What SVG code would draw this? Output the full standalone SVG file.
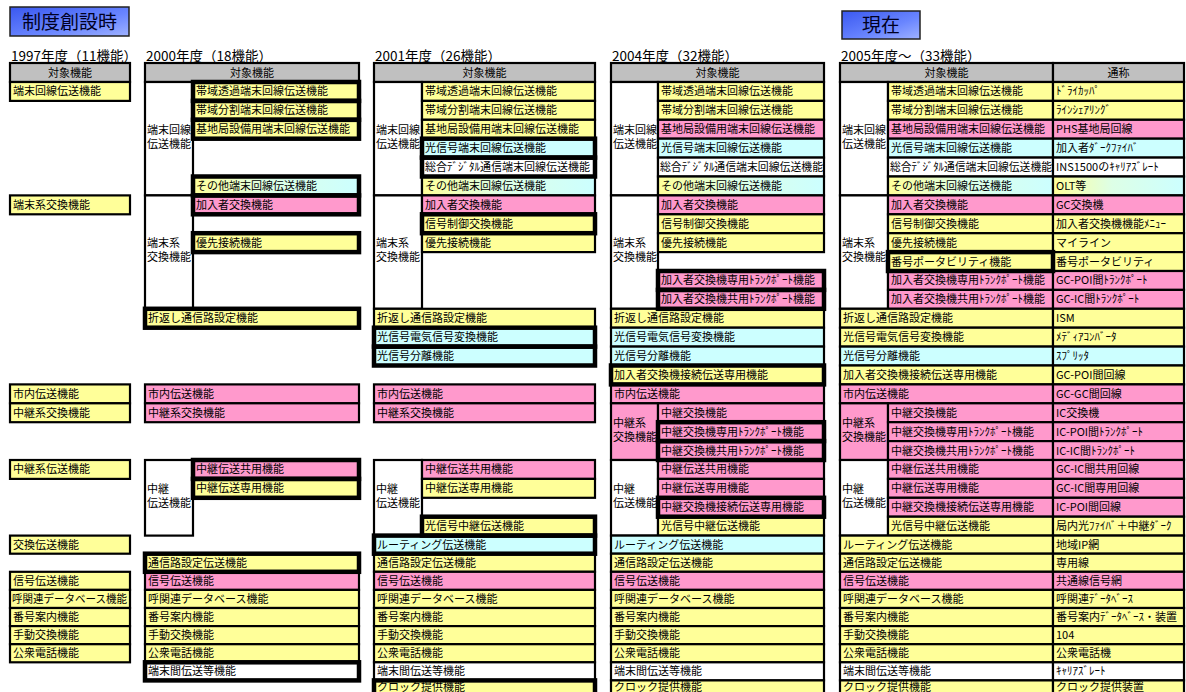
<svg xmlns="http://www.w3.org/2000/svg" width="1186" height="692" viewBox="0 0 1186 692">
<defs>
<linearGradient id="yc" x1="0" y1="0" x2="1" y2="0"><stop offset="0" stop-color="#FFFF99"/><stop offset="0.45" stop-color="#DDFFE6"/><stop offset="1" stop-color="#CCFFFF"/></linearGradient>
<linearGradient id="bl" x1="0" y1="0" x2="1" y2="1"><stop offset="0" stop-color="#3A58F0"/><stop offset="0.6" stop-color="#6A86FF"/><stop offset="1" stop-color="#9FB2FF"/></linearGradient>
<style>
rect{stroke:#000;stroke-width:2.2}
.y{fill:#FFFF99}.p{fill:#FF99CC}.c{fill:#CCFFFF}.w{fill:#FFFFFF}.g{fill:#C0C0C0}.gr{fill:url(#yc)}
.hl{fill:none;stroke:#000;stroke-width:4.5}
text{font-family:"Noto Sans CJK JP","Liberation Sans",sans-serif;font-size:11px;fill:#000}
.m{text-anchor:middle}
.yr{font-size:13.5px}
.ttl{font-size:19px;fill:#000022;text-anchor:middle}
.tb{fill:url(#bl);stroke:#222;stroke-width:1.5}
</style>
</defs>

<g id="title-start"><rect class="tb" x="10" y="7" width="119" height="29"/><text class="ttl" x="69.5" y="28.5">制度創設時</text></g>
<g id="title-now"><rect class="tb" x="842" y="11" width="78" height="28"/><text class="ttl" x="881" y="32">現在</text></g>

<g id="year-labels">
<text class="yr" x="11" y="61">1997年度（11機能）</text>
<text class="yr" x="146" y="61">2000年度（18機能）</text>
<text class="yr" x="375" y="61">2001年度（26機能）</text>
<text class="yr" x="612" y="61">2004年度（32機能）</text>
<text class="yr" x="841" y="61">2005年度～（33機能）</text>
</g>

<g id="t1997">
<rect class="g" x="10" y="63" width="120" height="19"/><text class="m" x="70" y="76.5">対象機能</text>
<rect class="y" x="10" y="82" width="120" height="18.9"/><text x="13" y="95.4">端末回線伝送機能</text>
<rect class="y" x="10" y="195.4" width="120" height="18.9"/><text x="13" y="208.8">端末系交換機能</text>
<rect class="y" x="10" y="384.4" width="120" height="18.9"/><text x="13" y="397.8">市内伝送機能</text>
<rect class="y" x="10" y="403.3" width="120" height="18.9"/><text x="13" y="416.7">中継系交換機能</text>
<rect class="y" x="10" y="460" width="120" height="18.9"/><text x="13" y="473.4">中継系伝送機能</text>
<rect class="y" x="10" y="535.6" width="120" height="18.1"/><text x="13" y="548.6">交換伝送機能</text>
<rect class="y" x="10" y="571.8" width="120" height="18.1"/><text x="13" y="584.8">信号伝送機能</text>
<rect class="y" x="10" y="589.9" width="120" height="18.1"/><text x="12" y="602.9" textLength="115" lengthAdjust="spacingAndGlyphs">呼関連データベース機能</text>
<rect class="y" x="10" y="608" width="120" height="18.1"/><text x="13" y="621">番号案内機能</text>
<rect class="y" x="10" y="626.1" width="120" height="18.1"/><text x="13" y="639.1">手動交換機能</text>
<rect class="y" x="10" y="644.2" width="120" height="18.1"/><text x="13" y="657.2">公衆電話機能</text>
</g>

<g id="t2000">
<rect class="g" x="145" y="63" width="214" height="19"/><text class="m" x="252" y="76.5">対象機能</text>
<rect class="w" x="145" y="82" width="48" height="113.4"/><text x="147" y="133.7">端末回線</text><text x="147" y="147.7">伝送機能</text>
<rect class="y" x="193" y="82" width="166" height="18.9"/><text x="196" y="95.4">帯域透過端末回線伝送機能</text>
<rect class="y" x="193" y="100.9" width="166" height="18.9"/><text x="196" y="114.3">帯域分割端末回線伝送機能</text>
<rect class="y" x="193" y="119.8" width="166" height="18.9"/><text x="196" y="133.2">基地局設備用端末回線伝送機能</text>
<rect class="gr" x="193" y="176.5" width="166" height="18.9"/><text x="196" y="189.9">その他端末回線伝送機能</text>
<rect class="w" x="145" y="195.4" width="48" height="113.4"/><text x="147" y="247.1">端末系</text><text x="147" y="261.1">交換機能</text>
<rect class="p" x="193" y="195.4" width="166" height="18.9"/><text x="196" y="208.8">加入者交換機能</text>
<rect class="y" x="193" y="233.2" width="166" height="18.9"/><text x="196" y="246.6">優先接続機能</text>
<rect class="y" x="145" y="308.8" width="214" height="18.9"/><text x="148" y="322.2">折返し通信路設定機能</text>
<rect class="p" x="145" y="384.4" width="214" height="18.9"/><text x="148" y="397.8">市内伝送機能</text>
<rect class="p" x="145" y="403.3" width="214" height="18.9"/><text x="148" y="416.7">中継系交換機能</text>
<rect class="w" x="145" y="460" width="48" height="75.6"/><text x="147" y="492.8">中継</text><text x="147" y="506.8">伝送機能</text>
<rect class="p" x="193" y="460" width="166" height="18.9"/><text x="196" y="473.4">中継伝送共用機能</text>
<rect class="y" x="193" y="478.9" width="166" height="18.9"/><text x="196" y="492.3">中継伝送専用機能</text>
<rect class="y" x="145" y="553.7" width="214" height="18.1"/><text x="148" y="566.7">通信路設定伝送機能</text>
<rect class="p" x="145" y="571.8" width="214" height="18.1"/><text x="148" y="584.8">信号伝送機能</text>
<rect class="y" x="145" y="589.9" width="214" height="18.1"/><text x="148" y="602.9">呼関連データベース機能</text>
<rect class="y" x="145" y="608" width="214" height="18.1"/><text x="148" y="621">番号案内機能</text>
<rect class="y" x="145" y="626.1" width="214" height="18.1"/><text x="148" y="639.1">手動交換機能</text>
<rect class="y" x="145" y="644.2" width="214" height="18.1"/><text x="148" y="657.2">公衆電話機能</text>
<rect class="w" x="145" y="662.3" width="214" height="18.1"/><text x="148" y="675.3">端末間伝送等機能</text>
<rect class="hl" x="193" y="82" width="166" height="18.9"/>
<rect class="hl" x="193" y="100.9" width="166" height="18.9"/>
<rect class="hl" x="193" y="119.8" width="166" height="18.9"/>
<rect class="hl" x="193" y="176.5" width="166" height="18.9"/>
<rect class="hl" x="193" y="195.4" width="166" height="18.9"/>
<rect class="hl" x="193" y="233.2" width="166" height="18.9"/>
<rect class="hl" x="145" y="308.8" width="214" height="18.9"/>
<rect class="hl" x="193" y="460" width="166" height="18.9"/>
<rect class="hl" x="193" y="478.9" width="166" height="18.9"/>
<rect class="hl" x="145" y="553.7" width="214" height="18.1"/>
<rect class="hl" x="145" y="662.3" width="214" height="18.1"/>
</g>

<g id="t2001">
<rect class="g" x="374" y="63" width="221" height="19"/><text class="m" x="484.5" y="76.5">対象機能</text>
<rect class="w" x="374" y="82" width="48" height="113.4"/><text x="376" y="133.7">端末回線</text><text x="376" y="147.7">伝送機能</text>
<rect class="y" x="422" y="82" width="173" height="18.9"/><text x="425" y="95.4">帯域透過端末回線伝送機能</text>
<rect class="y" x="422" y="100.9" width="173" height="18.9"/><text x="425" y="114.3">帯域分割端末回線伝送機能</text>
<rect class="y" x="422" y="119.8" width="173" height="18.9"/><text x="425" y="133.2">基地局設備用端末回線伝送機能</text>
<rect class="c" x="422" y="138.7" width="173" height="18.9"/><text x="425" y="152.1">光信号端末回線伝送機能</text>
<rect class="w" x="422" y="157.6" width="173" height="18.9"/><text x="425" y="171" textLength="165" lengthAdjust="spacingAndGlyphs">総合ﾃﾞｼﾞﾀﾙ通信端末回線伝送機能</text>
<rect class="gr" x="422" y="176.5" width="173" height="18.9"/><text x="425" y="189.9">その他端末回線伝送機能</text>
<rect class="w" x="374" y="195.4" width="48" height="113.4"/><text x="376" y="247.1">端末系</text><text x="376" y="261.1">交換機能</text>
<rect class="p" x="422" y="195.4" width="173" height="18.9"/><text x="425" y="208.8">加入者交換機能</text>
<rect class="y" x="422" y="214.3" width="173" height="18.9"/><text x="425" y="227.7">信号制御交換機能</text>
<rect class="y" x="422" y="233.2" width="173" height="18.9"/><text x="425" y="246.6">優先接続機能</text>
<rect class="y" x="374" y="308.8" width="221" height="18.9"/><text x="377" y="322.2">折返し通信路設定機能</text>
<rect class="c" x="374" y="327.7" width="221" height="18.9"/><text x="377" y="341.1">光信号電気信号変換機能</text>
<rect class="c" x="374" y="346.6" width="221" height="18.9"/><text x="377" y="360">光信号分離機能</text>
<rect class="p" x="374" y="384.4" width="221" height="18.9"/><text x="377" y="397.8">市内伝送機能</text>
<rect class="p" x="374" y="403.3" width="221" height="18.9"/><text x="377" y="416.7">中継系交換機能</text>
<rect class="w" x="374" y="460" width="48" height="75.6"/><text x="376" y="492.8">中継</text><text x="376" y="506.8">伝送機能</text>
<rect class="p" x="422" y="460" width="173" height="18.9"/><text x="425" y="473.4">中継伝送共用機能</text>
<rect class="y" x="422" y="478.9" width="173" height="18.9"/><text x="425" y="492.3">中継伝送専用機能</text>
<rect class="y" x="422" y="516.7" width="173" height="18.9"/><text x="425" y="530.1">光信号中継伝送機能</text>
<rect class="c" x="374" y="535.6" width="221" height="18.1"/><text x="377" y="548.6">ルーティング伝送機能</text>
<rect class="y" x="374" y="553.7" width="221" height="18.1"/><text x="377" y="566.7">通信路設定伝送機能</text>
<rect class="p" x="374" y="571.8" width="221" height="18.1"/><text x="377" y="584.8">信号伝送機能</text>
<rect class="y" x="374" y="589.9" width="221" height="18.1"/><text x="377" y="602.9">呼関連データベース機能</text>
<rect class="y" x="374" y="608" width="221" height="18.1"/><text x="377" y="621">番号案内機能</text>
<rect class="y" x="374" y="626.1" width="221" height="18.1"/><text x="377" y="639.1">手動交換機能</text>
<rect class="y" x="374" y="644.2" width="221" height="18.1"/><text x="377" y="657.2">公衆電話機能</text>
<rect class="w" x="374" y="662.3" width="221" height="18.1"/><text x="377" y="675.3">端末間伝送等機能</text>
<rect class="y" x="374" y="680.4" width="221" height="18.1"/><text x="377" y="691.3">クロック提供機能</text>
<rect class="hl" x="422" y="138.7" width="173" height="18.9"/>
<rect class="hl" x="422" y="157.6" width="173" height="18.9"/>
<rect class="hl" x="422" y="214.3" width="173" height="18.9"/>
<rect class="hl" x="374" y="327.7" width="221" height="18.9"/>
<rect class="hl" x="374" y="346.6" width="221" height="18.9"/>
<rect class="hl" x="422" y="516.7" width="173" height="18.9"/>
<rect class="hl" x="374" y="535.6" width="221" height="18.1"/>
<rect class="hl" x="374" y="680.4" width="221" height="18.1"/>
</g>

<g id="t2004">
<rect class="g" x="611" y="63" width="213" height="19"/><text class="m" x="717.5" y="76.5">対象機能</text>
<rect class="w" x="611" y="82" width="47" height="113.4"/><text x="613" y="133.7">端末回線</text><text x="613" y="147.7">伝送機能</text>
<rect class="y" x="658" y="82" width="166" height="18.9"/><text x="661" y="95.4">帯域透過端末回線伝送機能</text>
<rect class="y" x="658" y="100.9" width="166" height="18.9"/><text x="661" y="114.3">帯域分割端末回線伝送機能</text>
<rect class="p" x="658" y="119.8" width="166" height="18.9"/><text x="661" y="133.2">基地局設備用端末回線伝送機能</text>
<rect class="c" x="658" y="138.7" width="166" height="18.9"/><text x="661" y="152.1">光信号端末回線伝送機能</text>
<rect class="w" x="658" y="157.6" width="166" height="18.9"/><text x="660" y="171" textLength="163" lengthAdjust="spacingAndGlyphs">総合ﾃﾞｼﾞﾀﾙ通信端末回線伝送機能</text>
<rect class="gr" x="658" y="176.5" width="166" height="18.9"/><text x="661" y="189.9">その他端末回線伝送機能</text>
<rect class="w" x="611" y="195.4" width="47" height="113.4"/><text x="613" y="247.1">端末系</text><text x="613" y="261.1">交換機能</text>
<rect class="p" x="658" y="195.4" width="166" height="18.9"/><text x="661" y="208.8">加入者交換機能</text>
<rect class="y" x="658" y="214.3" width="166" height="18.9"/><text x="661" y="227.7">信号制御交換機能</text>
<rect class="y" x="658" y="233.2" width="166" height="18.9"/><text x="661" y="246.6">優先接続機能</text>
<rect class="p" x="658" y="271" width="166" height="18.9"/><text x="661" y="284.4">加入者交換機専用ﾄﾗﾝｸﾎﾟｰﾄ機能</text>
<rect class="p" x="658" y="289.9" width="166" height="18.9"/><text x="661" y="303.3">加入者交換機共用ﾄﾗﾝｸﾎﾟｰﾄ機能</text>
<rect class="y" x="611" y="308.8" width="213" height="18.9"/><text x="614" y="322.2">折返し通信路設定機能</text>
<rect class="c" x="611" y="327.7" width="213" height="18.9"/><text x="614" y="341.1">光信号電気信号変換機能</text>
<rect class="c" x="611" y="346.6" width="213" height="18.9"/><text x="614" y="360">光信号分離機能</text>
<rect class="y" x="611" y="365.5" width="213" height="18.9"/><text x="614" y="378.9">加入者交換機接続伝送専用機能</text>
<rect class="p" x="611" y="384.4" width="213" height="18.9"/><text x="614" y="397.8">市内伝送機能</text>
<rect class="p" x="611" y="403.3" width="47" height="56.7"/><text x="613" y="426.6">中継系</text><text x="613" y="440.6">交換機能</text>
<rect class="p" x="658" y="403.3" width="166" height="18.9"/><text x="661" y="416.7">中継交換機能</text>
<rect class="p" x="658" y="422.2" width="166" height="18.9"/><text x="661" y="435.6">中継交換機専用ﾄﾗﾝｸﾎﾟｰﾄ機能</text>
<rect class="p" x="658" y="441.1" width="166" height="18.9"/><text x="661" y="454.5">中継交換機共用ﾄﾗﾝｸﾎﾟｰﾄ機能</text>
<rect class="w" x="611" y="460" width="47" height="75.6"/><text x="613" y="492.8">中継</text><text x="613" y="506.8">伝送機能</text>
<rect class="p" x="658" y="460" width="166" height="18.9"/><text x="661" y="473.4">中継伝送共用機能</text>
<rect class="p" x="658" y="478.9" width="166" height="18.9"/><text x="661" y="492.3">中継伝送専用機能</text>
<rect class="p" x="658" y="497.8" width="166" height="18.9"/><text x="661" y="511.2">中継交換機接続伝送専用機能</text>
<rect class="y" x="658" y="516.7" width="166" height="18.9"/><text x="661" y="530.1">光信号中継伝送機能</text>
<rect class="c" x="611" y="535.6" width="213" height="18.1"/><text x="614" y="548.6">ルーティング伝送機能</text>
<rect class="y" x="611" y="553.7" width="213" height="18.1"/><text x="614" y="566.7">通信路設定伝送機能</text>
<rect class="p" x="611" y="571.8" width="213" height="18.1"/><text x="614" y="584.8">信号伝送機能</text>
<rect class="y" x="611" y="589.9" width="213" height="18.1"/><text x="614" y="602.9">呼関連データベース機能</text>
<rect class="y" x="611" y="608" width="213" height="18.1"/><text x="614" y="621">番号案内機能</text>
<rect class="y" x="611" y="626.1" width="213" height="18.1"/><text x="614" y="639.1">手動交換機能</text>
<rect class="y" x="611" y="644.2" width="213" height="18.1"/><text x="614" y="657.2">公衆電話機能</text>
<rect class="w" x="611" y="662.3" width="213" height="18.1"/><text x="614" y="675.3">端末間伝送等機能</text>
<rect class="y" x="611" y="680.4" width="213" height="18.1"/><text x="614" y="691.3">クロック提供機能</text>
<rect class="hl" x="658" y="271" width="166" height="18.9"/>
<rect class="hl" x="658" y="289.9" width="166" height="18.9"/>
<rect class="hl" x="611" y="365.5" width="213" height="18.9"/>
<rect class="hl" x="658" y="422.2" width="166" height="18.9"/>
<rect class="hl" x="658" y="441.1" width="166" height="18.9"/>
<rect class="hl" x="658" y="497.8" width="166" height="18.9"/>
</g>

<g id="t2005">
<rect class="g" x="840" y="63" width="213" height="19"/><text class="m" x="946.5" y="76.5">対象機能</text>
<rect class="g" x="1053" y="63" width="131" height="19"/><text class="m" x="1118.5" y="76.5">通称</text>
<rect class="w" x="840" y="82" width="48" height="113.4"/><text x="842" y="133.7">端末回線</text><text x="842" y="147.7">伝送機能</text>
<rect class="y" x="888" y="82" width="165" height="18.9"/><text x="891" y="95.4">帯域透過端末回線伝送機能</text>
<rect class="y" x="1053" y="82" width="131" height="18.9"/><text x="1056" y="95.4">ﾄﾞﾗｲｶｯﾊﾟ</text>
<rect class="y" x="888" y="100.9" width="165" height="18.9"/><text x="891" y="114.3">帯域分割端末回線伝送機能</text>
<rect class="y" x="1053" y="100.9" width="131" height="18.9"/><text x="1056" y="114.3">ﾗｲﾝｼｪｱﾘﾝｸﾞ</text>
<rect class="p" x="888" y="119.8" width="165" height="18.9"/><text x="891" y="133.2">基地局設備用端末回線伝送機能</text>
<rect class="p" x="1053" y="119.8" width="131" height="18.9"/><text x="1056" y="133.2">PHS基地局回線</text>
<rect class="c" x="888" y="138.7" width="165" height="18.9"/><text x="891" y="152.1">光信号端末回線伝送機能</text>
<rect class="c" x="1053" y="138.7" width="131" height="18.9"/><text x="1056" y="152.1">加入者ﾀﾞｰｸﾌｧｲﾊﾞ</text>
<rect class="w" x="888" y="157.6" width="165" height="18.9"/><text x="890" y="171" textLength="162" lengthAdjust="spacingAndGlyphs">総合ﾃﾞｼﾞﾀﾙ通信端末回線伝送機能</text>
<rect class="w" x="1053" y="157.6" width="131" height="18.9"/><text x="1056" y="171">INS1500のｷｬﾘｱｽﾞﾚｰﾄ</text>
<rect class="gr" x="888" y="176.5" width="165" height="18.9"/><text x="891" y="189.9">その他端末回線伝送機能</text>
<rect class="gr" x="1053" y="176.5" width="131" height="18.9"/><text x="1056" y="189.9">OLT等</text>
<rect class="w" x="840" y="195.4" width="48" height="113.4"/><text x="842" y="247.1">端末系</text><text x="842" y="261.1">交換機能</text>
<rect class="p" x="888" y="195.4" width="165" height="18.9"/><text x="891" y="208.8">加入者交換機能</text>
<rect class="p" x="1053" y="195.4" width="131" height="18.9"/><text x="1056" y="208.8">GC交換機</text>
<rect class="y" x="888" y="214.3" width="165" height="18.9"/><text x="891" y="227.7">信号制御交換機能</text>
<rect class="y" x="1053" y="214.3" width="131" height="18.9"/><text x="1056" y="227.7">加入者交換機機能ﾒﾆｭｰ</text>
<rect class="y" x="888" y="233.2" width="165" height="18.9"/><text x="891" y="246.6">優先接続機能</text>
<rect class="y" x="1053" y="233.2" width="131" height="18.9"/><text x="1056" y="246.6">マイライン</text>
<rect class="y" x="888" y="252.1" width="165" height="18.9"/><text x="891" y="265.5">番号ポータビリティ機能</text>
<rect class="y" x="1053" y="252.1" width="131" height="18.9"/><text x="1056" y="265.5">番号ポータビリティ</text>
<rect class="p" x="888" y="271" width="165" height="18.9"/><text x="891" y="284.4">加入者交換機専用ﾄﾗﾝｸﾎﾟｰﾄ機能</text>
<rect class="p" x="1053" y="271" width="131" height="18.9"/><text x="1056" y="284.4">GC-POI間ﾄﾗﾝｸﾎﾟｰﾄ</text>
<rect class="p" x="888" y="289.9" width="165" height="18.9"/><text x="891" y="303.3">加入者交換機共用ﾄﾗﾝｸﾎﾟｰﾄ機能</text>
<rect class="p" x="1053" y="289.9" width="131" height="18.9"/><text x="1056" y="303.3">GC-IC間ﾄﾗﾝｸﾎﾟｰﾄ</text>
<rect class="y" x="840" y="308.8" width="213" height="18.9"/><text x="843" y="322.2">折返し通信路設定機能</text>
<rect class="y" x="1053" y="308.8" width="131" height="18.9"/><text x="1056" y="322.2">ISM</text>
<rect class="y" x="840" y="327.7" width="213" height="18.9"/><text x="843" y="341.1">光信号電気信号変換機能</text>
<rect class="y" x="1053" y="327.7" width="131" height="18.9"/><text x="1056" y="341.1">ﾒﾃﾞｨｱｺﾝﾊﾞｰﾀ</text>
<rect class="c" x="840" y="346.6" width="213" height="18.9"/><text x="843" y="360">光信号分離機能</text>
<rect class="c" x="1053" y="346.6" width="131" height="18.9"/><text x="1056" y="360">ｽﾌﾟﾘｯﾀ</text>
<rect class="y" x="840" y="365.5" width="213" height="18.9"/><text x="843" y="378.9">加入者交換機接続伝送専用機能</text>
<rect class="y" x="1053" y="365.5" width="131" height="18.9"/><text x="1056" y="378.9">GC-POI間回線</text>
<rect class="p" x="840" y="384.4" width="213" height="18.9"/><text x="843" y="397.8">市内伝送機能</text>
<rect class="p" x="1053" y="384.4" width="131" height="18.9"/><text x="1056" y="397.8">GC-GC間回線</text>
<rect class="p" x="840" y="403.3" width="48" height="56.7"/><text x="842" y="426.6">中継系</text><text x="842" y="440.6">交換機能</text>
<rect class="p" x="888" y="403.3" width="165" height="18.9"/><text x="891" y="416.7">中継交換機能</text>
<rect class="p" x="1053" y="403.3" width="131" height="18.9"/><text x="1056" y="416.7">IC交換機</text>
<rect class="p" x="888" y="422.2" width="165" height="18.9"/><text x="891" y="435.6">中継交換機専用ﾄﾗﾝｸﾎﾟｰﾄ機能</text>
<rect class="p" x="1053" y="422.2" width="131" height="18.9"/><text x="1056" y="435.6">IC-POI間ﾄﾗﾝｸﾎﾟｰﾄ</text>
<rect class="p" x="888" y="441.1" width="165" height="18.9"/><text x="891" y="454.5">中継交換機共用ﾄﾗﾝｸﾎﾟｰﾄ機能</text>
<rect class="p" x="1053" y="441.1" width="131" height="18.9"/><text x="1056" y="454.5">IC-IC間ﾄﾗﾝｸﾎﾟｰﾄ</text>
<rect class="w" x="840" y="460" width="48" height="75.6"/><text x="842" y="492.8">中継</text><text x="842" y="506.8">伝送機能</text>
<rect class="p" x="888" y="460" width="165" height="18.9"/><text x="891" y="473.4">中継伝送共用機能</text>
<rect class="p" x="1053" y="460" width="131" height="18.9"/><text x="1056" y="473.4">GC-IC間共用回線</text>
<rect class="p" x="888" y="478.9" width="165" height="18.9"/><text x="891" y="492.3">中継伝送専用機能</text>
<rect class="p" x="1053" y="478.9" width="131" height="18.9"/><text x="1056" y="492.3">GC-IC間専用回線</text>
<rect class="p" x="888" y="497.8" width="165" height="18.9"/><text x="891" y="511.2">中継交換機接続伝送専用機能</text>
<rect class="p" x="1053" y="497.8" width="131" height="18.9"/><text x="1056" y="511.2">IC-POI間回線</text>
<rect class="y" x="888" y="516.7" width="165" height="18.9"/><text x="891" y="530.1">光信号中継伝送機能</text>
<rect class="y" x="1053" y="516.7" width="131" height="18.9"/><text x="1056" y="530.1">局内光ﾌｧｲﾊﾞ＋中継ﾀﾞｰｸ</text>
<rect class="y" x="840" y="535.6" width="213" height="18.1"/><text x="843" y="548.6">ルーティング伝送機能</text>
<rect class="y" x="1053" y="535.6" width="131" height="18.1"/><text x="1056" y="548.6">地域IP網</text>
<rect class="y" x="840" y="553.7" width="213" height="18.1"/><text x="843" y="566.7">通信路設定伝送機能</text>
<rect class="y" x="1053" y="553.7" width="131" height="18.1"/><text x="1056" y="566.7">専用線</text>
<rect class="p" x="840" y="571.8" width="213" height="18.1"/><text x="843" y="584.8">信号伝送機能</text>
<rect class="p" x="1053" y="571.8" width="131" height="18.1"/><text x="1056" y="584.8">共通線信号網</text>
<rect class="y" x="840" y="589.9" width="213" height="18.1"/><text x="843" y="602.9">呼関連データベース機能</text>
<rect class="y" x="1053" y="589.9" width="131" height="18.1"/><text x="1056" y="602.9">呼関連ﾃﾞｰﾀﾍﾞｰｽ</text>
<rect class="y" x="840" y="608" width="213" height="18.1"/><text x="843" y="621">番号案内機能</text>
<rect class="y" x="1053" y="608" width="131" height="18.1"/><text x="1056" y="621">番号案内ﾃﾞｰﾀﾍﾞｰｽ・装置</text>
<rect class="y" x="840" y="626.1" width="213" height="18.1"/><text x="843" y="639.1">手動交換機能</text>
<rect class="y" x="1053" y="626.1" width="131" height="18.1"/><text x="1056" y="639.1">104</text>
<rect class="y" x="840" y="644.2" width="213" height="18.1"/><text x="843" y="657.2">公衆電話機能</text>
<rect class="y" x="1053" y="644.2" width="131" height="18.1"/><text x="1056" y="657.2">公衆電話機</text>
<rect class="w" x="840" y="662.3" width="213" height="18.1"/><text x="843" y="675.3">端末間伝送等機能</text>
<rect class="w" x="1053" y="662.3" width="131" height="18.1"/><text x="1056" y="675.3">ｷｬﾘｱｽﾞﾚｰﾄ</text>
<rect class="y" x="840" y="680.4" width="213" height="18.1"/><text x="843" y="691.3">クロック提供機能</text>
<rect class="y" x="1053" y="680.4" width="131" height="18.1"/><text x="1056" y="691.3">クロック提供装置</text>
<rect class="hl" x="888" y="252.1" width="165" height="18.9"/>
</g>
</svg>
